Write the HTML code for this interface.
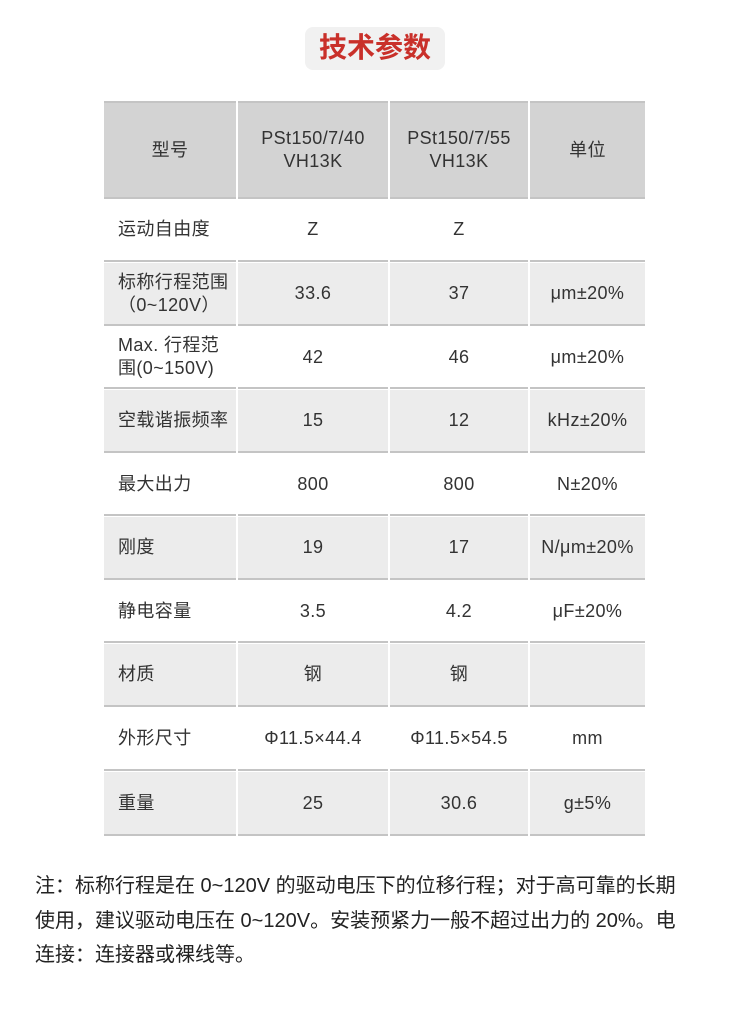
<!DOCTYPE html>
<html><head><meta charset="utf-8"><style>
body{margin:0;width:750px;height:1019px;background:#fff;position:relative;font-family:"Liberation Sans","Noto Sans CJK SC",sans-serif;color:#333;overflow:hidden}
.t{position:absolute;left:305px;top:27px;width:140px;height:43px;background:#f1f1f1;border-radius:8px;color:#c9302a;font-weight:bold;font-size:28px;text-align:center;line-height:42px}
.c{position:absolute;box-sizing:border-box;border-bottom:2px solid #c4c4c4;display:flex;align-items:center;justify-content:center;text-align:center;font-size:18px;letter-spacing:0.4px;line-height:23px;color:#333}
.l{justify-content:flex-start;text-align:left;padding-left:14px}
.g{background:#ececec}.h{background:#d3d3d3;border-top:2px solid #c4c4c4}
.n{position:absolute;left:35px;font-size:20px;color:#222;white-space:nowrap}
</style></head><body>
<div class="t">技术参数</div>
<div id="tb"></div>
<div class="n" style="top:869px">注：标称行程是在 0~120V 的驱动电压下的位移行程；对于高可靠的长期</div>
<div class="n" style="top:904px">使用，建议驱动电压在 0~120V。安装预紧力一般不超过出力的 20%。电</div>
<div class="n" style="top:938px">连接：连接器或裸线等。</div>
<script>
var cols=[[104,236],[238,388],[390,528],[530,645]];
var rows=[[101,199],[199,262],[263,326],[327,389],[390,453],[454,516],[517,580],[581,643],[644,707],[708,771],[772,836]];
var d=[["型号","PSt150/7/40<br>VH13K","PSt150/7/55<br>VH13K","单位"],
["运动自由度","Z","Z",""],
["标称行程范围<br>（0~120V）","33.6","37","μm±20%"],
["Max. 行程范<br>围(0~150V)","42","46","μm±20%"],
["空载谐振频率","15","12","kHz±20%"],
["最大出力","800","800","N±20%"],
["刚度","19","17","N/μm±20%"],
["静电容量","3.5","4.2","μF±20%"],
["材质","钢","钢",""],
["外形尺寸","Φ11.5×44.4","Φ11.5×54.5","mm"],
["重量","25","30.6","g±5%"]];
var h="";
for(var r=0;r<rows.length;r++)for(var c=0;c<4;c++){
var cls="c"+(r==0?" h":(r%2==0?" g":""))+(r>0&&c==0?" l":"");
h+='<div class="'+cls+'" style="left:'+cols[c][0]+'px;width:'+(cols[c][1]-cols[c][0])+'px;top:'+rows[r][0]+'px;height:'+(rows[r][1]-rows[r][0])+'px">'+d[r][c]+'</div>';}
document.getElementById("tb").innerHTML=h;
</script>
</body></html>
